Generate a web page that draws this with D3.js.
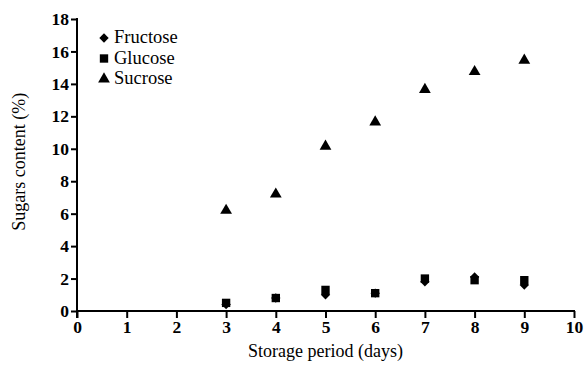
<!DOCTYPE html>
<meta charset="utf-8">
<svg width="586" height="371" font-family="Liberation Serif"></svg>
<script src="https://d3js.org/d3.v7.min.js"></script>
<script>
// storage days and sugar contents (%)
var days = [3, 4, 5, 6, 7, 8, 9];
var fructose = [0.4, 0.8, 1.0, 1.1, 1.8, 2.1, 1.6];
var glucose = [0.5, 0.8, 1.3, 1.1, 2.0, 1.9, 1.9];
var sucrose = [6.2, 7.2, 10.15, 11.65, 13.65, 14.75, 15.45];
var xTicks = [0, 1, 2, 3, 4, 5, 6, 7, 8, 9, 10];
var yTicks = [0, 2, 4, 6, 8, 10, 12, 14, 16, 18];

var font = "Liberation Serif";
d3.select("body").style("margin", "0px");
var svg = d3.select("svg");

var x = d3.scaleLinear().domain([0, 10]).range([77, 574]);
var y = d3.scaleLinear().domain([0, 18]).range([311, 19]);

// diamond = square turned 45 degrees
var series = [
  {name: "Fructose", values: fructose, symbol: d3.symbolSquare, size: 44, rot: 45},
  {name: "Glucose", values: glucose, symbol: d3.symbolSquare, size: 70, rot: 0},
  {name: "Sucrose", values: sucrose, symbol: d3.symbolTriangle, size: 60, rot: 0}
];

var xAxis = svg.append("g")
    .attr("transform", "translate(0," + y(0) + ")")
    .call(d3.axisBottom(x).tickValues(xTicks).tickSize(7).tickSizeOuter(0).tickPadding(3));
xAxis.select(".domain").attr("d", "M" + x(0) + ",0H" + (x(10) + 1));

var yAxis = svg.append("g")
    .attr("transform", "translate(" + x(0) + ",0)")
    .call(d3.axisLeft(y).tickValues(yTicks).tickSize(6).tickSizeOuter(0).tickPadding(2));
yAxis.select(".domain").attr("d", "M0," + (y(18) - 1) + "V" + (y(0) + 7));

svg.selectAll("g").attr("font-family", font).attr("font-size", null);
svg.selectAll(".domain, .tick line")
    .attr("stroke", "#000")
    .attr("stroke-width", 2);
svg.selectAll(".tick text")
    .attr("font-family", font)
    .attr("font-size", 17.5)
    .attr("font-weight", "bold")
    .attr("fill", "#000");

series.forEach(function(s) {
  svg.append("g")
    .selectAll("path")
    .data(days)
    .enter().append("path")
      .attr("d", d3.symbol().type(s.symbol).size(s.size))
      .attr("transform", function(d, i) {
        return "translate(" + x(d) + "," + y(s.values[i]) + ") rotate(" + s.rot + ")";
      })
      .attr("fill", "#000");
});

var legend = svg.append("g");
series.forEach(function(s, i) {
  var ly = 38 + i * 20.5;
  legend.append("path")
    .attr("d", d3.symbol().type(s.symbol).size(s.size))
    .attr("transform", "translate(104," + ly + ") rotate(" + s.rot + ")")
    .attr("fill", "#000");
  legend.append("text")
    .attr("x", 114)
    .attr("y", ly + 5)
    .attr("font-family", font)
    .attr("font-size", 18.5)
    .text(s.name);
});

svg.append("text")
    .attr("x", (x(0) + x(10)) / 2)
    .attr("y", 357)
    .attr("text-anchor", "middle")
    .attr("font-family", font)
    .attr("font-size", 18)
    .text("Storage period (days)");

svg.append("text")
    .attr("transform", "translate(25," + y(9.2) + ") rotate(-90)")
    .attr("text-anchor", "middle")
    .attr("font-family", font)
    .attr("font-size", 18)
    .text("Sugars content (%)");
</script>
